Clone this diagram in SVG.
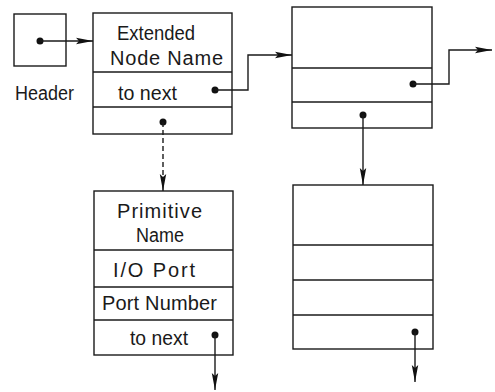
<svg xmlns="http://www.w3.org/2000/svg" width="495" height="392" viewBox="0 0 495 392">
<style>
.box{fill:#fff;stroke:#1a1a1a;stroke-width:1.4}
.div{stroke:#1a1a1a;stroke-width:1.4}
.t{font-family:"Liberation Sans",Arial,sans-serif;font-size:20px;fill:#1a1a1a}
.c{fill:none;stroke:#1a1a1a;stroke-width:1.4}
.dot{fill:#111}
</style>
<defs>
<marker id="ah" markerUnits="userSpaceOnUse" markerWidth="18" markerHeight="8" refX="17" refY="4" orient="auto">
<path d="M0,0.8 L17,4 L0,7.2 L3,4 z" fill="#111"/>
</marker>
</defs>
<g id="header">
<rect class="box" x="14" y="14" width="52" height="52"/>
<circle class="dot" cx="40" cy="41" r="3.5"/>
<text class="t" x="15" y="100" textLength="59" lengthAdjust="spacingAndGlyphs">Header</text>
</g>
<g id="extended-node">
<rect class="box" x="93" y="13" width="139" height="121"/>
<line class="div" x1="93" y1="72" x2="232" y2="72"/>
<line class="div" x1="93" y1="107" x2="232" y2="107"/>
<text class="t" x="117" y="40" textLength="78" lengthAdjust="spacingAndGlyphs">Extended</text>
<text class="t" x="110" y="65" textLength="113" lengthAdjust="spacing">Node Name</text>
<text class="t" x="118" y="100" textLength="59" lengthAdjust="spacingAndGlyphs">to next</text>
<circle class="dot" cx="215" cy="90" r="3.5"/>
<circle class="dot" cx="163" cy="122" r="3.5"/>
</g>
<g id="node2">
<rect class="box" x="292" y="7" width="140" height="121"/>
<line class="div" x1="292" y1="68" x2="432" y2="68"/>
<line class="div" x1="292" y1="102" x2="432" y2="102"/>
<circle class="dot" cx="413" cy="84" r="3.5"/>
<circle class="dot" cx="363" cy="115" r="3.5"/>
</g>
<g id="primitive-node">
<rect class="box" x="94" y="191" width="139" height="164"/>
<line class="div" x1="94" y1="250" x2="233" y2="250"/>
<line class="div" x1="94" y1="287" x2="233" y2="287"/>
<line class="div" x1="94" y1="320" x2="233" y2="320"/>
<text class="t" x="117" y="218" textLength="85" lengthAdjust="spacing">Primitive</text>
<text class="t" x="136" y="242" textLength="48" lengthAdjust="spacingAndGlyphs">Name</text>
<text class="t" x="113" y="277" textLength="82" lengthAdjust="spacing">I/O Port</text>
<text class="t" x="102" y="310" textLength="115" lengthAdjust="spacing">Port Number</text>
<text class="t" x="130" y="345" textLength="58" lengthAdjust="spacingAndGlyphs">to next</text>
<circle class="dot" cx="215" cy="335" r="3.5"/>
</g>
<g id="node4">
<rect class="box" x="293" y="185" width="140" height="164"/>
<line class="div" x1="293" y1="245" x2="433" y2="245"/>
<line class="div" x1="293" y1="280" x2="433" y2="280"/>
<line class="div" x1="293" y1="315" x2="433" y2="315"/>
<circle class="dot" cx="415" cy="332" r="3.5"/>
</g>
<g id="connectors">
<path class="c" d="M40,41 H93" marker-end="url(#ah)"/>
<path class="c" d="M215,90 H248 V55 H292" marker-end="url(#ah)"/>
<path class="c" d="M413,84 H449 V50 H492" marker-end="url(#ah)"/>
<path class="c" d="M163,122 V191" stroke-dasharray="5,3" stroke-width="1" marker-end="url(#ah)"/>
<path class="c" d="M363,115 V185" marker-end="url(#ah)"/>
<path class="c" d="M215,335 V390" marker-end="url(#ah)"/>
<path class="c" d="M415,332 V382" marker-end="url(#ah)"/>
</g>
</svg>
